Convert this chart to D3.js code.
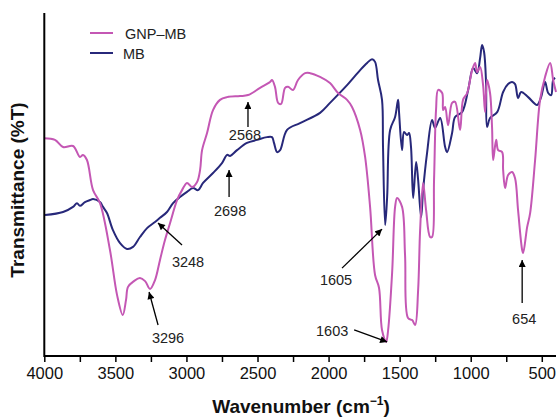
<!DOCTYPE html>
<html>
<head>
<meta charset="utf-8">
<script src="https://cdn.jsdelivr.net/npm/d3@7"></script>
<style>
  body { margin: 0; background: #fff; }
  text { font-family: "Liberation Sans", Arial, sans-serif; }
</style>
</head>
<body>
<div id="chart"></div>
<script>
// wavenumber (cm-1) and transmittance
const gnpWave = [4000, 3925, 3868, 3798, 3749, 3728, 3700, 3657, 3608, 3538, 3488, 3448, 3425, 3411, 3369, 3327, 3291, 3256, 3221, 3186, 3151, 3115, 3066, 3031, 2996, 2961, 2925, 2904, 2890, 2855, 2813, 2764, 2714, 2623, 2567, 2482, 2412, 2398, 2377, 2355, 2334, 2306, 2285, 2250, 2215, 2165, 2130, 2060, 1990, 1933, 1870, 1835, 1778, 1743, 1708, 1673, 1645, 1624, 1595, 1581, 1553, 1532, 1518, 1483, 1462, 1441, 1412, 1391, 1370, 1356, 1335, 1314, 1286, 1272, 1258, 1244, 1229, 1201, 1194, 1180, 1159, 1131, 1110, 1075, 1054, 1025, 990, 969, 955, 934, 913, 899, 885, 864, 850, 842, 821, 807, 779, 772, 758, 737, 709, 688, 667, 638, 631, 603, 582, 547, 512, 477, 441, 420, 400];
const gnpT = [63.7, 63.2, 61.1, 61.4, 58.2, 58.8, 57.3, 48.5, 44.7, 31.0, 17.8, 12.0, 16.4, 20.2, 21.9, 22.8, 21.9, 19.6, 22.2, 28.1, 33.9, 38.9, 45.6, 48.5, 50.6, 49.4, 50.9, 54.4, 60.2, 65.2, 71.9, 74.9, 75.7, 76.0, 76.3, 78.4, 80.1, 80.7, 78.7, 74.0, 73.7, 78.4, 78.7, 77.8, 80.7, 82.7, 82.7, 81.6, 79.8, 76.9, 74.9, 72.8, 66.1, 58.2, 43.6, 23.7, 19.9, 7.6, 4.1, 7.6, 24.3, 43.6, 46.2, 43.6, 29.5, 11.1, 10.5, 9.1, 19.3, 36.8, 50.6, 42.7, 34.8, 34.8, 51.5, 71.9, 77.8, 76.9, 71.9, 72.8, 67.5, 74.0, 74.3, 66.1, 74.9, 76.9, 83.6, 85.7, 83.0, 84.5, 79.2, 71.3, 80.7, 76.9, 67.0, 57.3, 63.2, 60.2, 59.6, 54.4, 49.1, 52.9, 53.8, 52.0, 42.7, 31.0, 30.1, 37.7, 41.8, 57.3, 74.9, 81.6, 85.7, 80.7, 77.2];

const mbWave = [3995, 3868, 3798, 3770, 3749, 3714, 3678, 3657, 3608, 3587, 3559, 3517, 3467, 3418, 3376, 3327, 3277, 3221, 3186, 3137, 3094, 3045, 2996, 2954, 2918, 2883, 2813, 2750, 2714, 2693, 2644, 2574, 2503, 2433, 2398, 2384, 2362, 2341, 2292, 2201, 2060, 1990, 1870, 1778, 1729, 1694, 1673, 1652, 1624, 1617, 1602, 1588, 1567, 1532, 1511, 1504, 1483, 1469, 1448, 1434, 1420, 1405, 1384, 1370, 1349, 1335, 1307, 1272, 1251, 1215, 1180, 1166, 1131, 1110, 1061, 1018, 983, 955, 934, 920, 906, 892, 885, 864, 814, 772, 737, 709, 688, 667, 645, 596, 533, 505, 477, 455, 434, 420, 406];
const mbT = [41.2, 42.1, 43.6, 44.7, 43.9, 45.0, 45.6, 45.9, 45.0, 43.6, 41.8, 36.8, 33.0, 31.3, 31.9, 34.8, 37.4, 39.2, 40.4, 42.1, 44.7, 46.5, 48.0, 49.1, 48.5, 50.6, 53.5, 56.4, 58.8, 58.5, 60.2, 62.3, 63.2, 64.0, 64.0, 62.3, 59.6, 60.2, 66.1, 68.1, 71.1, 74.0, 79.2, 83.6, 85.7, 86.8, 86.0, 80.7, 74.9, 61.1, 38.3, 46.5, 66.1, 69.9, 74.9, 71.1, 60.2, 65.5, 64.6, 65.2, 61.1, 46.2, 56.7, 51.5, 40.6, 48.5, 59.4, 69.0, 66.7, 69.6, 61.1, 59.6, 65.2, 69.9, 71.3, 77.8, 84.2, 82.7, 87.1, 90.9, 88.9, 79.8, 67.0, 69.6, 71.3, 77.2, 79.5, 80.1, 79.5, 75.4, 77.2, 75.7, 73.4, 75.7, 80.1, 76.9, 76.3, 80.7, 81.3];

const seriesNames = ["GNP\u2013MB", "MB"];
const seriesColors = ["#c457b4", "#27287a"];

const xTicks = [4000, 3500, 3000, 2500, 2000, 1500, 1000, 500];
const xMinorTicks = [3750, 3250, 2750, 2250, 1750, 1250, 750];

// peak labels: text, series, wavenumber / transmittance the arrow points at
const peakLabels = ["2568", "2698", "3248", "3296", "1605", "1603", "654"];
const peakWave = [2567, 2700, 3200, 3263, 1624, 1588, 638];
const peakT = [74.3, 54.4, 38.9, 18.7, 37.1, 4.1, 28.1];

// arrow tail and text offsets from the tip, in pixels
const peakLayout = [
  { tail: [0, 25], text: [-3, 38] },
  { tail: [0, 27], text: [1, 46] },
  { tail: [24, 22], text: [30, 44] },
  { tail: [9, 33], text: [19, 51] },
  { tail: [-40, 39], text: [-46, 56] },
  { tail: [-33, -12], text: [-55, -6] },
  { tail: [0, 43], text: [2, 64] }
];

const W = 559, H = 417;
const x = d3.scaleLinear().domain([4000, 400]).range([44.3, 556]);
const y = d3.scaleLinear().domain([0, 100]).range([356, 14]);

const svg = d3.select("#chart").append("svg")
  .attr("width", W).attr("height", H);

svg.append("defs").append("marker")
  .attr("id", "arrow")
  .attr("viewBox", "0 0 10 10")
  .attr("refX", 10).attr("refY", 5)
  .attr("markerWidth", 8).attr("markerHeight", 7)
  .attr("markerUnits", "userSpaceOnUse")
  .attr("orient", "auto")
  .append("path").attr("d", "M0,0L10,5L0,10Z").attr("fill", "#000");

const line = d3.line()
  .x(d => x(d[0])).y(d => y(d[1]))
  .curve(d3.curveCatmullRom.alpha(0.5));

const series = [
  d3.zip(gnpWave, gnpT),
  d3.zip(mbWave, mbT)
];

// MB drawn first, GNP-MB on top
[1, 0].forEach(i => {
  svg.append("path")
    .datum(series[i])
    .attr("fill", "none")
    .attr("stroke", seriesColors[i])
    .attr("stroke-width", 2)
    .attr("stroke-linejoin", "round")
    .attr("d", line);
});

// axes
const xAxis = svg.append("g")
  .attr("transform", `translate(0,${y(0)})`)
  .call(d3.axisBottom(x).tickValues(xTicks).tickSize(6).tickPadding(5).tickFormat(d3.format("d")));
xAxis.select(".domain").attr("stroke-width", 2).attr("d", `M${x(4000)},0H${x(400)}`);
xAxis.selectAll(".tick line").attr("stroke-width", 1.5);
xAxis.selectAll(".tick text")
  .attr("font-size", 16.5)
  .attr("font-family", "Liberation Sans, Arial, sans-serif")
  .attr("fill", "#111");

const xMinor = svg.append("g")
  .attr("transform", `translate(0,${y(0)})`)
  .call(d3.axisBottom(x).tickValues(xMinorTicks).tickSize(6).tickFormat(""));
xMinor.select(".domain").remove();
xMinor.selectAll(".tick line").attr("stroke-width", 1.5);

const yAxis = svg.append("g")
  .attr("transform", `translate(${x(4000)},0)`)
  .call(d3.axisLeft(y).tickValues([]).tickSizeOuter(0));
yAxis.select(".domain").attr("stroke-width", 2).attr("d", `M0,${y(0) + 1}V${y(100) - 1}`);

svg.append("text")
  .attr("x", 301).attr("y", 413)
  .attr("text-anchor", "middle")
  .attr("font-size", 19).attr("font-weight", "bold")
  .attr("fill", "#111")
  .html('Wavenumber (cm<tspan dy="-8" font-size="12">\u22121</tspan><tspan dy="8">)</tspan>');

svg.append("text")
  .attr("transform", "translate(24,190) rotate(-90)")
  .attr("text-anchor", "middle")
  .attr("font-size", 19).attr("font-weight", "bold")
  .attr("fill", "#111")
  .text("Transmittance (%T)");

// legend
const legend = svg.append("g");
seriesNames.forEach((name, i) => {
  const ly = 33 + i * 20;
  legend.append("line")
    .attr("x1", 90).attr("x2", 113).attr("y1", ly).attr("y2", ly)
    .attr("stroke", seriesColors[i]).attr("stroke-width", 2);
  legend.append("text")
    .attr("x", i === 0 ? 125 : 123).attr("y", ly + 5.5)
    .attr("font-size", 14.5).attr("fill", "#222")
    .text(name);
});

// peak annotations
peakLabels.forEach((label, i) => {
  const tx = x(peakWave[i]), ty = y(peakT[i]);
  const lay = peakLayout[i];
  svg.append("line")
    .attr("x1", tx + lay.tail[0]).attr("y1", ty + lay.tail[1])
    .attr("x2", tx).attr("y2", ty)
    .attr("stroke", "#000").attr("stroke-width", 1.3)
    .attr("marker-end", "url(#arrow)");
  svg.append("text")
    .attr("x", tx + lay.text[0]).attr("y", ty + lay.text[1])
    .attr("text-anchor", "middle")
    .attr("font-size", 14.5).attr("fill", "#222")
    .text(label);
});
</script>
</body>
</html>
